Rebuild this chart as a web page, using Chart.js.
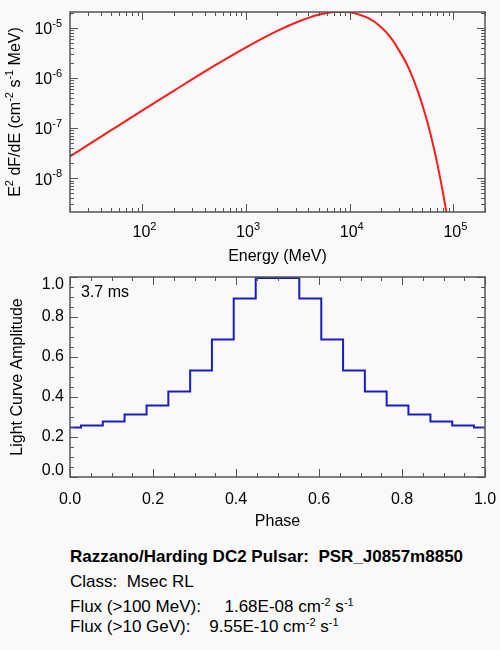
<!DOCTYPE html>
<html>
<head>
<meta charset="utf-8">
<script src="https://cdn.jsdelivr.net/npm/chart.js@4.4.1/dist/chart.umd.min.js"></script>
<style>
  body { margin: 0; background: #f9f9f9; font-family: "Liberation Sans", Arial, sans-serif; color: #000; }
  #wrap { position: relative; width: 500px; height: 650px; }
  canvas { position: absolute; left: 0; }
  .line { position: absolute; left: 70px; font-size: 17px; line-height: 20px; white-space: pre; }
  .line sup { font-size: 11px; vertical-align: 6px; line-height: 0; }
</style>
</head>
<body>
<div id="wrap">
  <canvas id="spec" width="500" height="270" style="top:0"></canvas>
  <canvas id="light" width="500" height="270" style="top:270px"></canvas>
  <div class="line" style="top:547px; font-weight:bold">Razzano/Harding DC2 Pulsar:  PSR_J0857m8850</div>
  <div class="line" style="top:572px">Class:  Msec RL</div>
  <div class="line" style="top:597px">Flux (&gt;100 MeV):     1.68E-08 cm<sup>-2</sup> s<sup>-1</sup></div>
  <div class="line" style="top:617px">Flux (&gt;10 GeV):    9.55E-10 cm<sup>-2</sup> s<sup>-1</sup></div>
</div>
<script>
// spectrum
const energyMeV = [20, 50, 100, 200, 500, 1000, 2000, 3000, 5000, 7000, 8300, 10000, 15000, 20000,
  25000, 30000, 35000, 40000, 45000, 50000, 55000, 60000, 65000, 70000, 75000, 80000, 85000, 90000];
const e2dnde = [2.72e-8, 9.08e-8, 2.25e-7, 5.52e-7, 1.77e-6, 4.07e-6, 8.67e-6, 1.26e-5, 1.81e-5, 2.05e-5,
  2.09e-5, 2.04e-5, 1.57e-5, 1.04e-5, 6.3e-6, 3.5e-6, 2.0e-6, 1.09e-6, 5.7e-7, 2.99e-7, 1.53e-7,
  7.8e-8, 3.9e-8, 1.95e-8, 9.6e-9, 4.7e-9, 2.3e-9, 1.1e-9];
const energyTicks = [100, 1000, 10000, 100000];
const fluxTicks = [1e-8, 1e-7, 1e-6, 1e-5];

// light curve
const phase = [0.000, 0.053, 0.105, 0.158, 0.211, 0.263, 0.316, 0.368, 0.421, 0.474,
  0.526, 0.579, 0.632, 0.684, 0.737, 0.789, 0.842, 0.895, 0.947, 1.000];
const amplitude = [0.247, 0.257, 0.278, 0.312, 0.357, 0.427, 0.533, 0.687, 0.892, 0.995,
  0.995, 0.892, 0.687, 0.533, 0.427, 0.357, 0.312, 0.278, 0.257, 0.247];
const phaseTicks = [0, 0.2, 0.4, 0.6, 0.8, 1.0];
const ampTicks = [0, 0.2, 0.4, 0.6, 0.8, 1.0];

const AXIS = '#555';
const BASE = '16px "Liberation Sans", Arial, sans-serif';
const SUP = '11px "Liberation Sans", Arial, sans-serif';

// text with superscript pieces: runs = [[text, isSup], ...]
function drawRich(ctx, runs, x, y, align) {
  ctx.save();
  ctx.textBaseline = 'middle';
  ctx.textAlign = 'left';
  ctx.fillStyle = '#000';
  let w = 0;
  runs.forEach(r => { ctx.font = r[1] ? SUP : BASE; w += ctx.measureText(r[0]).width; });
  let cx = align === 'right' ? x - w : align === 'center' ? x - w / 2 : x;
  runs.forEach(r => {
    ctx.font = r[1] ? SUP : BASE;
    ctx.fillText(r[0], cx, r[1] ? y - 6 : y);
    cx += ctx.measureText(r[0]).width;
  });
  ctx.restore();
}

function tick(ctx, x1, y1, x2, y2) {
  ctx.beginPath();
  ctx.moveTo(x1, y1);
  ctx.lineTo(x2, y2);
  ctx.stroke();
}

function logTicks(min, max) {
  const out = [];
  for (let d = Math.floor(Math.log10(min)); d <= Math.ceil(Math.log10(max)); d++) {
    for (let m = 1; m <= 9; m++) {
      const v = m * Math.pow(10, d);
      if (v >= min && v <= max) out.push([v, m === 1]);
    }
  }
  return out;
}

const specFrame = {
  id: 'specFrame',
  afterDraw(chart) {
    const { ctx, chartArea: a, scales: { x, y } } = chart;
    ctx.save();
    ctx.strokeStyle = AXIS;
    ctx.lineWidth = 1;
    logTicks(x.min, x.max).forEach(([v, major]) => {
      const px = Math.round(x.getPixelForValue(v)) + 0.5;
      const len = major ? 8 : 4;
      tick(ctx, px, a.bottom, px, a.bottom - len);
      tick(ctx, px, a.top, px, a.top + len);
    });
    logTicks(y.min, y.max).forEach(([v, major]) => {
      const py = Math.round(y.getPixelForValue(v)) + 0.5;
      const len = major ? 8 : 4;
      tick(ctx, a.left, py, a.left + len, py);
      tick(ctx, a.right, py, a.right - len, py);
    });
    ctx.lineWidth = 1.5;
    ctx.strokeRect(a.left, a.top, a.right - a.left, a.bottom - a.top);
    ctx.restore();

    energyTicks.forEach(v => {
      drawRich(ctx, [['10', false], [String(Math.round(Math.log10(v))), true]], x.getPixelForValue(v) + 2, 233, 'center');
    });
    fluxTicks.forEach(v => {
      drawRich(ctx, [['10', false], [String(Math.round(Math.log10(v))), true]], 62, y.getPixelForValue(v) + 2, 'right');
    });
    drawRich(ctx, [['Energy (MeV)', false]], (a.left + a.right) / 2, 257, 'center');
    ctx.save();
    ctx.translate(16, (a.top + a.bottom) / 2);
    ctx.rotate(-Math.PI / 2);
    drawRich(ctx, [['E', false], ['2', true], [' dF/dE (cm', false], ['-2', true], [' s', false], ['-1', true], [' MeV)', false]], 0, 0, 'center');
    ctx.restore();
  }
};

const lightFrame = {
  id: 'lightFrame',
  afterDraw(chart) {
    const { ctx, chartArea: a, scales: { x, y } } = chart;
    ctx.save();
    ctx.strokeStyle = AXIS;
    ctx.lineWidth = 1;
    for (let i = 0; i <= 20; i++) {
      const px = Math.round(x.getPixelForValue(i * 0.05)) + 0.5;
      const len = i % 4 === 0 ? 8 : 4;
      tick(ctx, px, a.bottom, px, a.bottom - len);
      tick(ctx, px, a.top, px, a.top + len);
    }
    for (let i = 0; i <= 20; i++) {
      const py = Math.round(y.getPixelForValue(i * 0.05)) + 0.5;
      const len = i % 4 === 0 ? 8 : 4;
      tick(ctx, a.left, py, a.left + len, py);
      tick(ctx, a.right, py, a.right - len, py);
    }
    ctx.lineWidth = 1.5;
    ctx.strokeRect(a.left, a.top, a.right - a.left, a.bottom - a.top);
    ctx.restore();

    phaseTicks.forEach(v => {
      drawRich(ctx, [[v.toFixed(1), false]], x.getPixelForValue(v), 230, 'center');
    });
    ampTicks.forEach(v => {
      const py = Math.min(Math.max(y.getPixelForValue(v), a.top + 8), a.bottom - 6);
      drawRich(ctx, [[v.toFixed(1), false]], 64, py, 'right');
    });
    drawRich(ctx, [['3.7 ms', false]], 81, 23, 'left');
    drawRich(ctx, [['Phase', false]], (a.left + a.right) / 2, 252, 'center');
    ctx.save();
    ctx.translate(18, (a.top + a.bottom) / 2);
    ctx.rotate(-Math.PI / 2);
    drawRich(ctx, [['Light Curve Amplitude', false]], 0, 0, 'center');
    ctx.restore();
  }
};

new Chart(document.getElementById('spec'), {
  type: 'line',
  data: {
    datasets: [{
      data: energyMeV.map((e, i) => ({ x: e, y: e2dnde[i] })),
      borderColor: '#ff1a1a',
      borderWidth: 2,
      pointRadius: 0,
      cubicInterpolationMode: 'monotone'
    }]
  },
  options: {
    responsive: false,
    animation: false,
    layout: { padding: { left: 70, right: 15, top: 12, bottom: 58 } },
    plugins: { legend: { display: false }, tooltip: { enabled: false } },
    scales: {
      x: { type: 'logarithmic', min: 20, max: 2.02e5, display: false },
      y: { type: 'logarithmic', min: 2.12e-9, max: 2.06e-5, display: false }
    }
  },
  plugins: [specFrame]
});

new Chart(document.getElementById('light'), {
  type: 'line',
  data: {
    datasets: [{
      data: phase.map((p, i) => ({ x: p, y: amplitude[i] })),
      borderColor: '#1c1cc4',
      borderWidth: 2,
      pointRadius: 0,
      stepped: 'middle'
    }]
  },
  options: {
    responsive: false,
    animation: false,
    layout: { padding: { left: 70, right: 15, top: 7, bottom: 63 } },
    plugins: { legend: { display: false }, tooltip: { enabled: false } },
    scales: {
      x: { type: 'linear', min: 0, max: 1, display: false },
      y: { type: 'linear', min: 0, max: 1, display: false }
    }
  },
  plugins: [lightFrame]
});
</script>
</body>
</html>
